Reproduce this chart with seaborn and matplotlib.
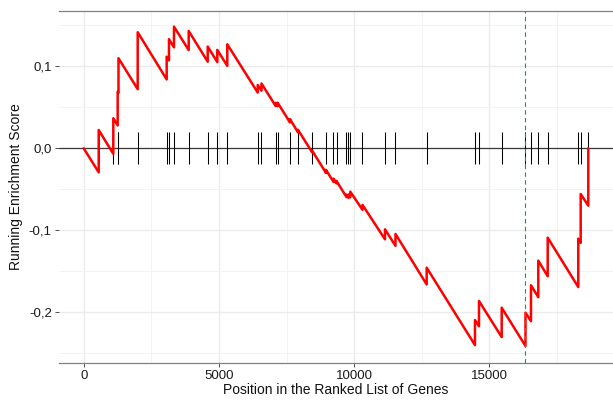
import matplotlib
matplotlib.use("Agg")
import matplotlib.pyplot as plt
import numpy as np
import pandas as pd
import seaborn as sns
from matplotlib.ticker import FixedLocator, MultipleLocator

# ---- data ----
hit_pos = [555, 1095, 1257, 1287, 1997, 3069, 3154, 3339, 3883, 4586, 4941, 5310,
           6435, 6575, 7100, 7174, 7629, 7925, 8450, 8960, 9238, 9349, 9718, 9792,
           9859, 10310, 11142, 11530, 12684, 14470, 14618, 15458, 16338, 16541,
           16811, 17159, 18290, 18379, 18660]
es_before = [-0.0293, -0.0068, 0.0279, 0.0675, 0.0721, 0.0840, 0.1072, 0.1231,
             0.1198, 0.1056, 0.1051, 0.1005, 0.0680, 0.0702, 0.0515, 0.0515,
             0.0315, 0.0195, -0.0050, -0.0300, -0.0410, -0.0428, -0.0595, -0.0604,
             -0.0598, -0.0750, -0.1110, -0.1190, -0.1660, -0.2400, -0.2170, -0.2302,
             -0.2411, -0.2108, -0.1815, -0.1560, -0.1692, -0.1153, -0.0700]
es_after = [0.0223, 0.0366, 0.0688, 0.1098, 0.1415, 0.1117, 0.1330, 0.1483,
            0.1430, 0.1240, 0.1200, 0.1268, 0.0772, 0.0790, 0.0555, 0.0555,
            0.0355, 0.0225, -0.0030, -0.0263, -0.0370, -0.0398, -0.0565, -0.0564,
            -0.0529, -0.0690, -0.0988, -0.1045, -0.1456, -0.2094, -0.1862, -0.1944,
            -0.2005, -0.1671, -0.1370, -0.1090, -0.1102, -0.0557, 0.0000]
start_pos = 0
start_es = 0.0
peak_pos = 16338

x_ticks = [0, 5000, 10000, 15000]
x_tick_labels = ["0", "5000", "10000", "15000"]
y_ticks = [-0.2, -0.1, 0.0, 0.1]
y_tick_labels = ["-0,2", "-0,1", "0,0", "0,1"]

# ---- build curve table (vertices before/after each hit) ----
xs = [start_pos]
ys = [start_es]
for p, b, a in zip(hit_pos, es_before, es_after):
    xs += [p, p]
    ys += [b, a]
curve = pd.DataFrame({"pos": xs, "es": ys})

sns.set_style("white")
plt.rcParams['font.family'] = ['Liberation Sans', 'DejaVu Sans']

fig = plt.figure(figsize=(6.13, 4.0), dpi=100)
ax = fig.add_axes([59 / 613, 1 - 362.5 / 400, (613 - 59) / 613, (362.5 - 11) / 400])

# grid
ax.set_axisbelow(True)
ax.xaxis.set_major_locator(FixedLocator(x_ticks))
ax.yaxis.set_major_locator(FixedLocator(y_ticks))
ax.xaxis.set_minor_locator(MultipleLocator(2500))
ax.yaxis.set_minor_locator(MultipleLocator(0.05))
ax.grid(which='major', color='#EBEBEB', linewidth=1.0, zorder=0)
ax.grid(which='minor', color='#F3F3F3', linewidth=0.7, zorder=0)

# zero line and hit ticks
ax.axhline(0, color='#3a3a3a', linewidth=0.9, zorder=1)
ax.vlines(hit_pos, -0.0195, 0.0199, color='black', linewidth=0.75, zorder=2)

# running enrichment score
sns.lineplot(data=curve, x="pos", y="es", sort=False, estimator=None,
             color='red', linewidth=1.8, ax=ax, zorder=3)

# dashed marker of the maximum deviation
ax.axvline(peak_pos, color='#1E9E1E', linestyle=(0, (4, 3)), linewidth=0.8, zorder=4)

ax.set_xlim(-913, 19574)
ax.set_ylim(-0.2612, 0.1674)
ax.set_xticklabels(x_tick_labels)
ax.set_yticklabels(y_tick_labels)

for side in ['left', 'right']:
    ax.spines[side].set_visible(False)
for side in ['top', 'bottom']:
    ax.spines[side].set_visible(True)
    ax.spines[side].set_color('#808080')
    ax.spines[side].set_linewidth(0.9)

ax.tick_params(axis='both', which='major', direction='out', length=3.2, width=0.6,
               color='#333333', labelsize=9.5, labelcolor='#1a1a1a', pad=2,
               bottom=True, left=True)
ax.tick_params(axis='both', which='minor', length=0)

ax.set_xlabel("Position in the Ranked List of Genes", fontsize=10, color='#111111', labelpad=1)
ax.set_ylabel("Running Enrichment Score", fontsize=10, color='#111111', labelpad=4)

fig.savefig("out.png", dpi=100)
